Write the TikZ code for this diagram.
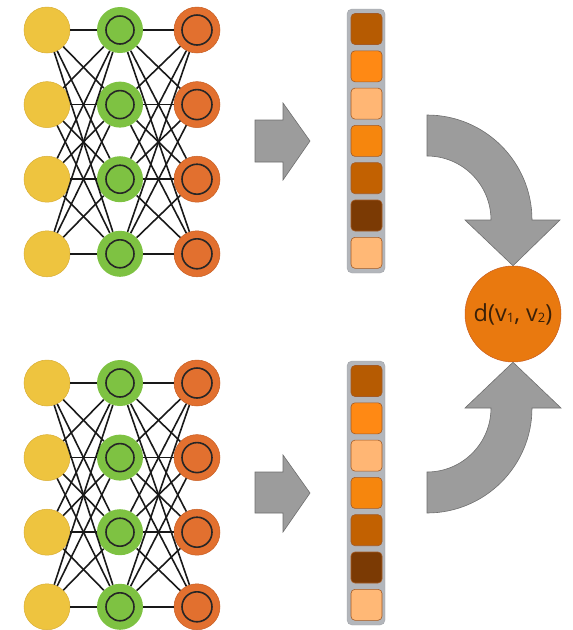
\documentclass[tikz,border=0pt]{standalone}
\usepackage{fontspec}
\setmainfont{Open Sans}

\definecolor{inyellow}{HTML}{EEC43F}
\definecolor{inyellowdk}{HTML}{D9AE35}
\definecolor{hidgreen}{HTML}{7EC242}
\definecolor{outorange}{HTML}{E2702F}
\definecolor{outorangedk}{HTML}{C85E22}
\definecolor{distorange}{HTML}{E9790F}
\definecolor{arrowgray}{HTML}{9C9C9C}
\definecolor{arrowedge}{HTML}{6E6E6E}
\definecolor{bargray}{HTML}{B3B6BB}
\definecolor{celledge}{HTML}{A45A24}
\definecolor{cellA}{HTML}{B65B02}
\definecolor{cellB}{HTML}{FF8914}
\definecolor{cellC}{HTML}{FFB674}
\definecolor{cellD}{HTML}{F6860D}
\definecolor{cellE}{HTML}{C26101}
\definecolor{cellF}{HTML}{7B3A04}
\definecolor{cellG}{HTML}{FFB876}
\definecolor{labeltext}{HTML}{3A2008}

\newcommand{\lowdigit}[1]{\raisebox{-1pt}{\fontsize{13}{13}\selectfont #1}}

\tikzset{
  unit/.style={circle, inner sep=0pt, minimum size=46pt},
  inunit/.style={unit, fill=inyellow, draw=inyellowdk, line width=0.5pt},
  hidunit/.style={unit, fill=hidgreen},
  outunit/.style={unit, fill=outorange, draw=outorangedk, line width=0.5pt},
  ring/.style={draw=black!85, line width=1.6pt},
  edge/.style={draw=black!90, line width=1.6pt},
  blockarrow/.style={fill=arrowgray, draw=arrowedge, line width=0.6pt, line join=miter},
  vecbar/.style={fill=bargray, draw=bargray!90!black, line width=0.4pt, rounded corners=5pt},
  cell/.style={draw=celledge, line width=0.6pt, rounded corners=4pt, minimum size=31pt, inner sep=0pt},
}

\begin{document}
\begin{tikzpicture}[x=1pt, y=-1pt]
  \useasboundingbox (0,0) rectangle (573,630);

  % the two networks: t = top, b = bottom
  \foreach \net/\ytop in {t/30, b/383} {
    \foreach \i in {1,...,4} {
      \node[inunit]  (\net-in\i)  at (47,  {\ytop+74.6*(\i-1)}) {};
      \node[hidunit] (\net-hid\i) at (120, {\ytop+74.6*(\i-1)}) {};
      \node[outunit] (\net-out\i) at (197, {\ytop+74.6*(\i-1)}) {};
      \draw[ring] (\net-hid\i.center) circle (14);
      \draw[ring] (\net-out\i.center) circle (15);
    }
    \foreach \i in {1,...,4}
      \foreach \j in {1,...,4} {
        \draw[edge] (\net-in\i) -- (\net-hid\j);
        \draw[edge] (\net-hid\i) -- (\net-out\j);
      }
  }

  % straight arrows into the vectors
  \draw[blockarrow] (255,120) -- (283,120) -- (283,103) -- (310,141)
    -- (283,180) -- (283,162) -- (255,162) -- cycle;
  \draw[blockarrow] (255,472) -- (283,472) -- (283,455) -- (310,493)
    -- (283,532) -- (283,513) -- (255,513) -- cycle;

  % embedding vectors
  \draw[vecbar] (347,9) rectangle (385,273);
  \draw[vecbar] (347,361) rectangle (385,625);
  \foreach \c [count=\k from 0] in {cellA,cellB,cellC,cellD,cellE,cellF,cellG} {
    \node[cell, fill=\c] (tv\k) at (366.5, {29+37.3*\k}) {};
    \node[cell, fill=\c] (bv\k) at (366.5, {381+37.3*\k}) {};
  }

  % distance node
  \node[circle, fill=distorange, draw=outorangedk, line width=0.5pt,
        minimum size=96pt, inner sep=0pt, text=labeltext,
        font=\fontsize{23.5}{26}\selectfont] (dist) at (513,314)
        {d(v\lowdigit{1}, v\lowdigit{2})};

  % curved arrows into the distance node
  \draw[blockarrow] (427,115) arc[start angle=-90, end angle=0, radius=105]
    -- (560,220) -- (dist.north) -- (465,220) -- (491,220)
    arc[start angle=0, end angle=-90, radius=64] -- cycle;
  \draw[blockarrow] (427,513) arc[start angle=90, end angle=0, radius=105]
    -- (561,408) -- (dist.south) -- (465,408) -- (491,408)
    arc[start angle=0, end angle=90, radius=64] -- cycle;
\end{tikzpicture}
\end{document}
